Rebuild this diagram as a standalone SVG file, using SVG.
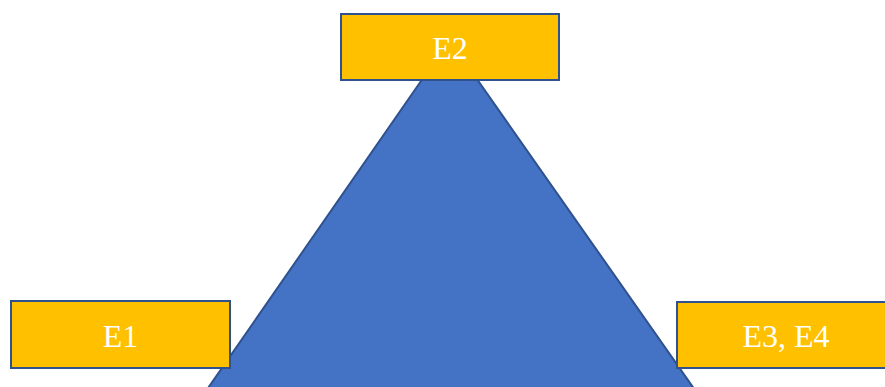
<svg xmlns="http://www.w3.org/2000/svg" width="885" height="387" viewBox="0 0 885 387">
  <style>
    .box { fill: #FFC000; stroke: #2F528F; stroke-width: 2; }
    .label { fill: #FFFFFF; font-family: "Liberation Serif", "Times New Roman", serif; font-size: 32px; text-anchor: middle; }
  </style>
  <rect width="885" height="387" fill="#FFFFFF"/>
  <g id="connectors"></g>
  <!-- central triangle -->
  <g id="triangle">
    <polygon points="449.5,40 172,440 730,440" fill="#4472C4" stroke="#2F528F" stroke-width="2"/>
  </g>
  <g id="e2">
    <rect class="box" x="341" y="14" width="218" height="66"/>
    <text class="label" x="450" y="59">E2</text>
  </g>
  <g id="e1">
    <rect class="box" x="11" y="301" width="219" height="67"/>
    <text class="label" x="120.5" y="347">E1</text>
  </g>
  <g id="e3e4">
    <rect class="box" x="677" y="302" width="218" height="66"/>
    <text class="label" x="786" y="347">E3, E4</text>
  </g>
</svg>
